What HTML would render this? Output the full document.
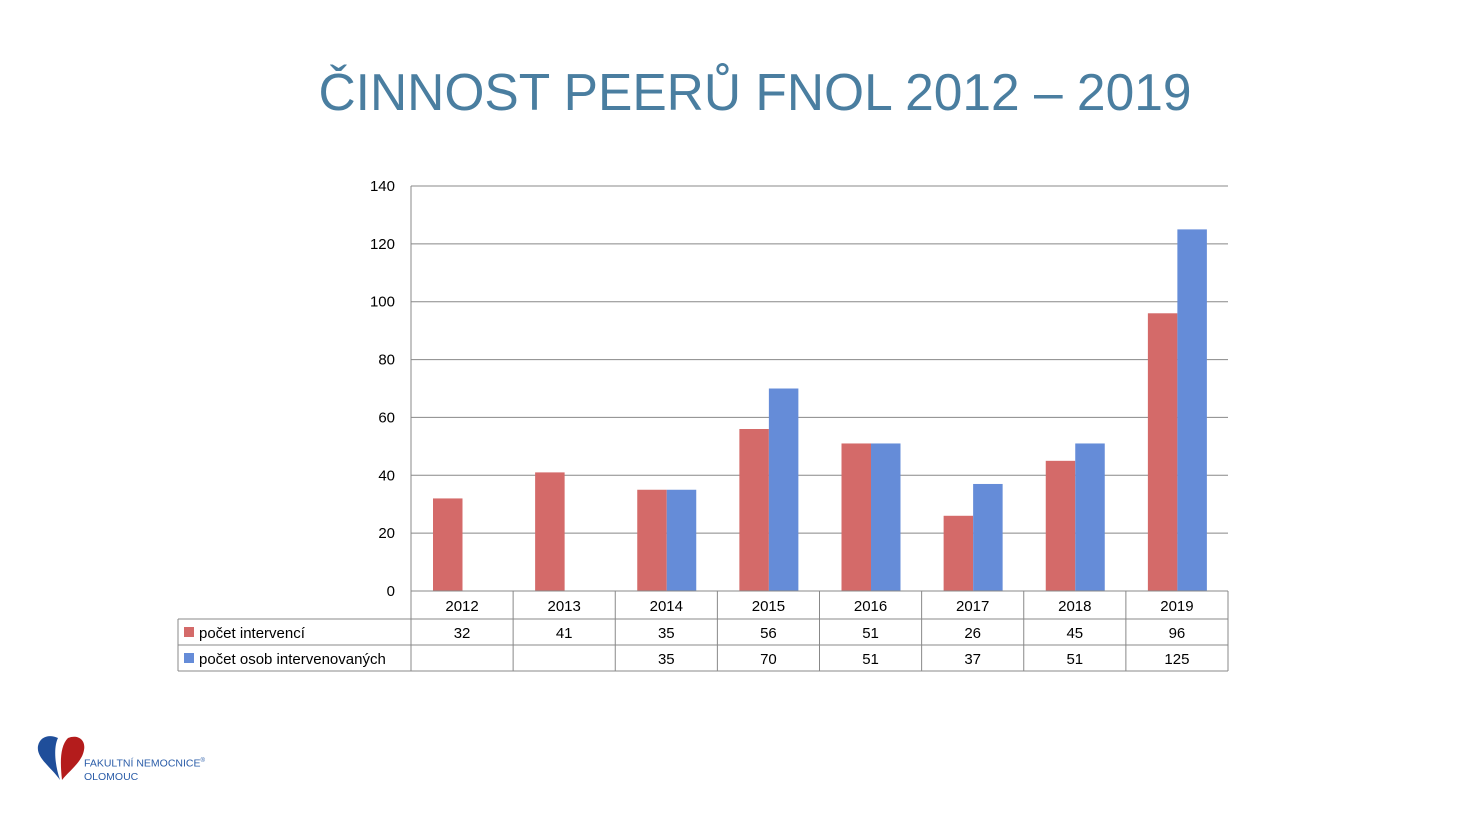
<!DOCTYPE html>
<html><head><meta charset="utf-8"><style>
body{margin:0;width:1466px;height:824px;background:#fff;overflow:hidden;font-family:"Liberation Sans",sans-serif;}
#title{position:absolute;left:0;width:1510px;top:62px;text-align:center;font-size:51.5px;color:#4a7ea0;}
</style></head><body>
<div id="title">ČINNOST PEERŮ FNOL 2012 – 2019</div>
<svg id="chart" width="1466" height="824" style="position:absolute;left:0;top:0"></svg>
<svg width="60" height="60" style="position:absolute;left:34px;top:732px">
<path d="M26 48 C18 36 2 26 4 14 C6 4 16 2 24 6 C20 14 20 30 26 48Z" fill="#1f4e9a"/>
<path d="M28 48 C26 30 26 14 34 6 C44 2 52 8 50 18 C48 30 36 38 28 48Z" fill="#b41c1c"/>
</svg>
<div style="position:absolute;left:84px;top:755px;font-size:10.5px;color:#2a5ca8;line-height:13px">FAKULTNÍ NEMOCNICE<sup style="font-size:6px">®</sup><br>OLOMOUC</div>
<script>
const categories=["2012","2013","2014","2015","2016","2017","2018","2019"];
const intervence=[32,41,35,56,51,26,45,96];
const osoby=[null,null,35,70,51,37,51,125];
const ticks=[0,20,40,60,80,100,120,140];
const svg=document.getElementById('chart');const NS='http://www.w3.org/2000/svg';
const L=411,R=1228,T=186,B=591,max=140,cw=(R-L)/categories.length;
const y=v=>B-(v/max)*(B-T);const x=i=>L+i*cw;
function mk(t,a){const e=document.createElementNS(NS,t);for(const k in a)e.setAttribute(k,a[k]);svg.appendChild(e);return e;}
ticks.forEach(t=>{const l=mk('line',{x1:L,x2:R,y1:y(t),y2:y(t),stroke:'#888','stroke-width':1});


const tx=mk('text',{x:395,y:y(t)+5,'text-anchor':'end','font-size':15,fill:'#000'});tx.textContent=t;

});
mk('line',{x1:L,x2:L,y1:T,y2:671,stroke:'#888'});
const bw=29.5;
categories.forEach((c,i)=>{
 const r=mk('rect',{x:x(i)+22,y:y(intervence[i]),width:bw,height:B-y(intervence[i]),fill:'#d46a69'});
 
 
 if(osoby[i]!=null){const b=mk('rect',{x:x(i)+22+bw,y:y(osoby[i]),width:bw,height:B-y(osoby[i]),fill:'#658cd8'});
 
 }
 const cx=x(i)+cw/2;
 [[c,611],[intervence[i],638],[osoby[i]??'',664]].forEach(([v,yy])=>{const t=mk('text',{x:cx,y:yy,'text-anchor':'middle','font-size':15,fill:'#000'});t.textContent=v;
 
 });
});
[591,619,645,671].forEach((yy,k)=>mk('line',{x1:k==0?L:178,x2:R,y1:yy,y2:yy,stroke:'#888'}));
for(let i=0;i<=categories.length;i++)mk('line',{x1:x(i),x2:x(i),y1:591,y2:671,stroke:'#888'});
mk('line',{x1:178,x2:178,y1:619,y2:671,stroke:'#888'});
[['počet intervencí','#d46a69',632],['počet osob intervenovaných','#658cd8',658]].forEach(([n,col,yy])=>{
 const s=mk('rect',{x:184,y:yy-5,width:10,height:10,fill:col});
 
 
 const t=mk('text',{x:199,y:yy+6,'font-size':15,fill:'#000'});t.textContent=n;
 
 });
</script>
</body></html>
